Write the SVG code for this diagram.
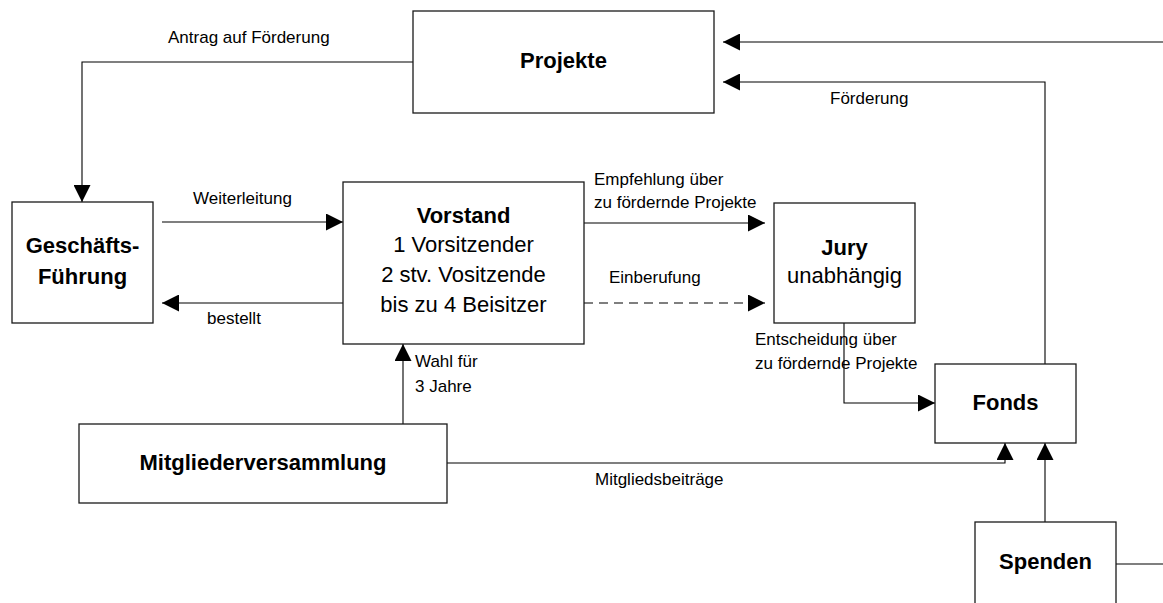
<svg xmlns="http://www.w3.org/2000/svg" width="1163" height="603" viewBox="0 0 1163 603">
<style>
.box{fill:#fff;stroke:#1a1a1a;stroke-width:1.3}
.ln{fill:none;stroke:#000;stroke-width:1.1}
.dash{stroke-dasharray:9 6}
.t{font-family:"Liberation Sans",Arial,sans-serif;font-size:22px;fill:#000;text-anchor:middle}
.b{font-weight:bold}
.lb{font-family:"Liberation Sans",Arial,sans-serif;font-size:17px;fill:#000}
</style>
<defs>
<marker id="ah" markerUnits="userSpaceOnUse" markerWidth="17" markerHeight="17" refX="17" refY="8.5" orient="auto" viewBox="0 0 17 17">
<path d="M0,0 L17,8.5 L0,17 z" fill="#000"/>
</marker>
</defs>
<rect width="1163" height="603" fill="#fff"/>
<g id="connectors">
<path class="ln" d="M413,62 H82 V202" marker-end="url(#ah)"/>
<path class="ln" d="M1163,42 H723" marker-end="url(#ah)"/>
<path class="ln" d="M1045,364 V82 H723" marker-end="url(#ah)"/>
<path class="ln" d="M162,222 H343" marker-end="url(#ah)"/>
<path class="ln" d="M343,303 H162" marker-end="url(#ah)"/>
<path class="ln" d="M584,223 H765" marker-end="url(#ah)"/>
<path class="ln dash" d="M584,303 H765" marker-end="url(#ah)"/>
<path class="ln" d="M403,424 V344" marker-end="url(#ah)"/>
<path class="ln" d="M844,323 V403 H935" marker-end="url(#ah)"/>
<path class="ln" d="M447,463 H1005 V443" marker-end="url(#ah)"/>
<path class="ln" d="M1045,522 V443" marker-end="url(#ah)"/>
<path class="ln" d="M1116,564 H1163"/>
<text class="lb" x="168" y="43">Antrag auf Förderung</text>
<text class="lb" x="830" y="104">Förderung</text>
<text class="lb" x="193" y="204">Weiterleitung</text>
<text class="lb" x="207" y="324">bestellt</text>
<text class="lb" x="594" y="185">Empfehlung über</text>
<text class="lb" x="594" y="208">zu fördernde Projekte</text>
<text class="lb" x="609" y="283">Einberufung</text>
<text class="lb" x="415" y="367">Wahl für</text>
<text class="lb" x="415" y="392">3 Jahre</text>
<text class="lb" x="755" y="345">Entscheidung über</text>
<text class="lb" x="755" y="369">zu fördernde Projekte</text>
<text class="lb" x="595" y="485">Mitgliedsbeiträge</text>
</g>
<g id="projekte">
<rect class="box" x="413" y="11" width="301" height="102"/>
<text class="t b" x="563.5" y="68">Projekte</text>
</g>
<g id="geschaeftsfuehrung">
<rect class="box" x="12" y="202" width="141" height="121"/>
<text class="t b" x="82.5" y="253">Geschäfts-</text>
<text class="t b" x="82.5" y="284">Führung</text>
</g>
<g id="vorstand">
<rect class="box" x="343" y="182" width="241" height="162"/>
<text class="t b" x="463.5" y="223">Vorstand</text>
<text class="t" x="463.5" y="252">1 Vorsitzender</text>
<text class="t" x="463.5" y="282">2 stv. Vositzende</text>
<text class="t" x="463.5" y="312">bis zu 4 Beisitzer</text>
</g>
<g id="jury">
<rect class="box" x="774" y="203" width="141" height="120"/>
<text class="t b" x="844.5" y="255">Jury</text>
<text class="t" x="844.5" y="283">unabhängig</text>
</g>
<g id="fonds">
<rect class="box" x="935" y="364" width="141" height="79"/>
<text class="t b" x="1005.5" y="410">Fonds</text>
</g>
<g id="mitgliederversammlung">
<rect class="box" x="79" y="424" width="368" height="79"/>
<text class="t b" x="263" y="470">Mitgliederversammlung</text>
</g>
<g id="spenden">
<rect class="box" x="975" y="522" width="141" height="100"/>
<text class="t b" x="1045.5" y="569">Spenden</text>
</g>
</svg>
